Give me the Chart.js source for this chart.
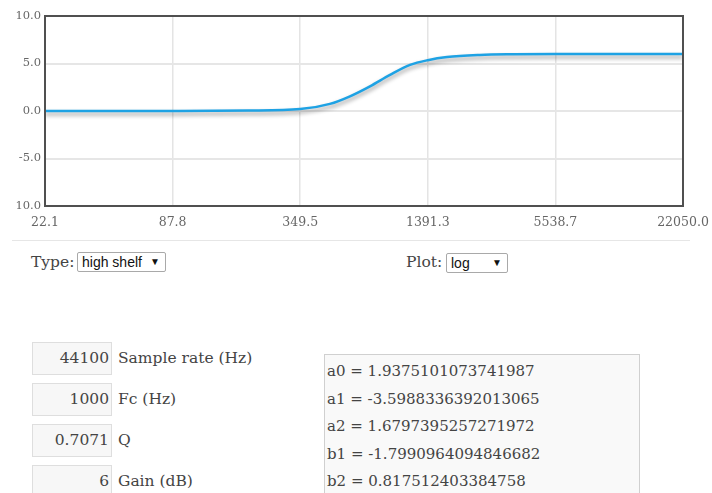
<!DOCTYPE html>
<html>
<head>
<meta charset="utf-8">
<script src="https://cdn.jsdelivr.net/npm/chart.js@4"></script>
<style>
  html, body { margin: 0; padding: 0; background: #fff; width: 712px; height: 493px; overflow: hidden; }
  body { position: relative; font-family: "DejaVu Serif", Georgia, serif; color: #444; }
  #wrap { position: absolute; left: 0; top: 0; width: 712px; height: 236px; }
  #hr { position: absolute; left: 12px; top: 240px; width: 678px; height: 0; border-top: 1px solid #e6e6e6; }
  .lbl { position: absolute; font-size: 15.5px; line-height: 20px; color: #444; }
  .sel { position: absolute; height: 18px; border: 1px solid #a9a9a9; border-radius: 2px; background: #fff;
         font-family: Arial, "Liberation Sans", sans-serif; font-size: 14px; line-height: 18px; color: #111; box-sizing: content-box; }
  .sel span.t { position: absolute; left: 4px; top: 0; }
  .sel span.a { position: absolute; right: 5px; top: 0; font-size: 10px; }
  .box { position: absolute; left: 32px; width: 76px; height: 31px; background: #f7f7f7; border: 1px solid #dedede;
         font-size: 15.5px; line-height: 31px; text-align: right; padding-right: 2px; box-sizing: content-box; color: #444; }
  .flab { position: absolute; left: 118px; font-size: 15.5px; line-height: 20px; color: #444; }
  #ta { position: absolute; left: 324px; top: 354px; width: 316px; height: 150px; background: #f9f9f9; border: 1px solid #d0d0d0;
        font-size: 15px; line-height: 27.6px; padding: 3px 0 0 2px; box-sizing: border-box; color: #444; white-space: pre; }
</style>
</head>
<body>
<div id="wrap"><canvas id="c" width="712" height="236"></canvas></div>
<div id="hr"></div>

<div class="lbl" style="left:31px; top:252px;">Type:</div>
<div class="sel" style="left:77px; top:252px; width:87px;"><span class="t">high shelf</span><span class="a">&#9660;</span></div>
<div class="lbl" style="left:406px; top:252px;">Plot:</div>
<div class="sel" style="left:446px; top:253px; width:60px;"><span class="t">log</span><span class="a">&#9660;</span></div>

<div class="box" style="top:342px;">44100</div><div class="flab" style="top:348px;">Sample rate (Hz)</div>
<div class="box" style="top:383px;">1000</div><div class="flab" style="top:389px;">Fc (Hz)</div>
<div class="box" style="top:424px;">0.7071</div><div class="flab" style="top:430px;">Q</div>
<div class="box" style="top:465px;">6</div><div class="flab" style="top:471px;">Gain (dB)</div>

<div id="ta">a0 = 1.9375101073741987
a1 = -3.5988336392013065
a2 = 1.6797395257271972
b1 = -1.7990964094846682
b2 = 0.817512403384758</div>

<script>
// Frequency (Hz) and magnitude (dB)
const freqs = [22.05, 87.8, 200, 349.5, 482, 599, 744, 924, 1148, 1391, 1713, 2447, 3500, 5538.7, 22050];
const gains = [0.0, 0.01, 0.05, 0.2, 0.75, 1.55, 2.6, 3.8, 4.85, 5.35, 5.68, 5.9, 5.97, 6.0, 6.0];

const xTickValues = [22.05, 87.78, 349.46, 1391.3, 5538.7, 22050];
const xTickLabels = ["22.1", "87.8", "349.5", "1391.3", "5538.7", "22050.0"];
const yTickValues = [-10, -5, 0, 5, 10];
const yTickLabels = ["10.0", "-5.0", "0.0", "5.0", "10.0"];

const shadowPlugin = {
  id: 'lineShadow',
  beforeDatasetDraw(chart) {
    const ctx = chart.ctx;
    ctx.save();
    ctx.shadowColor = 'rgba(0,0,0,0.4)';
    ctx.shadowBlur = 4;
    ctx.shadowOffsetX = 0;
    ctx.shadowOffsetY = 3;
  },
  afterDatasetDraw(chart) { chart.ctx.restore(); }
};
const framePlugin = {
  id: 'frame',
  afterDraw(chart) {
    const a = chart.chartArea, ctx = chart.ctx;
    ctx.save();
    ctx.strokeStyle = '#505050';
    ctx.lineWidth = 2;
    ctx.strokeRect(a.left, a.top, a.right - a.left, a.bottom - a.top);
    ctx.restore();
  }
};

new Chart(document.getElementById('c'), {
  type: 'line',
  data: {
    datasets: [{
      data: freqs.map((f, i) => ({ x: f, y: gains[i] })),
      borderColor: '#1ea2e4',
      borderWidth: 2.5,
      pointRadius: 0,
      fill: false,
      cubicInterpolationMode: 'monotone'
    }]
  },
  options: {
    responsive: false,
    animation: false,
    events: [],
    layout: { padding: { top: 16, right: 29, left: 0, bottom: 0 } },
    plugins: { legend: { display: false }, tooltip: { enabled: false } },
    scales: {
      x: {
        type: 'logarithmic',
        min: 22.05,
        max: 22050,
        afterBuildTicks(scale) { scale.ticks = xTickValues.map(v => ({ value: v })); },
        afterFit(scale) { scale.height = 30; scale.paddingLeft = 0; scale.paddingRight = 0; },
        ticks: {
          autoSkip: false,
          maxRotation: 0,
          padding: 9,
          color: '#666',
          font: { family: 'DejaVu Serif', size: 12.5 },
          callback: (v, i) => xTickLabels[i]
        },
        grid: { color: '#e4e4e4', lineWidth: 1.5, drawTicks: false },
        border: { display: false }
      },
      y: {
        min: -10,
        max: 10,
        afterBuildTicks(scale) { scale.ticks = yTickValues.map(v => ({ value: v })); },
        afterFit(scale) { scale.width = 45; },
        ticks: {
          padding: 4,
          color: '#666',
          font: { family: 'DejaVu Serif', size: 11.5 },
          callback: (v, i) => yTickLabels[i]
        },
        grid: { color: '#e6e6e6', lineWidth: 2, drawTicks: false },
        border: { display: false }
      }
    }
  },
  plugins: [shadowPlugin, framePlugin]
});
</script>
</body>
</html>
